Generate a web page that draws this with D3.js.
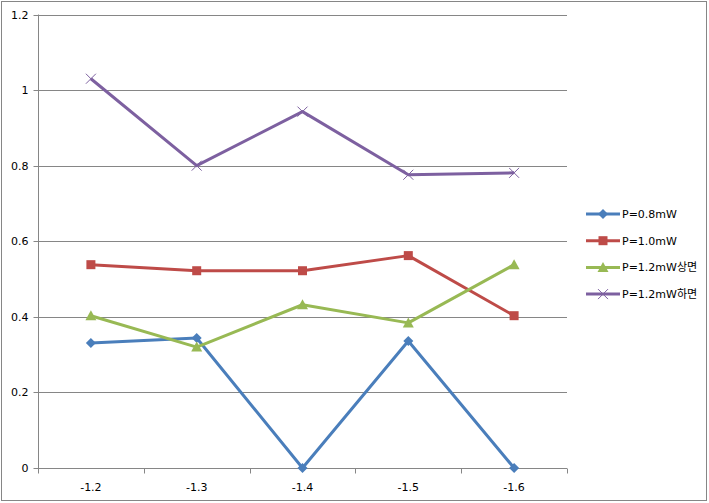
<!DOCTYPE html>
<html><head><meta charset="utf-8">
<script src="https://cdn.jsdelivr.net/npm/d3@7"></script>
<style>body{margin:0;background:#fff;} svg{display:block;} text{font-family:"DejaVu Sans","Noto Sans CJK KR",sans-serif;font-size:11px;fill:#000;}</style>
</head><body><svg id="c" width="709" height="503"></svg>
<script>
const categories = ["-1.2","-1.3","-1.4","-1.5","-1.6"];
const p08 = [0.331,0.344,0,0.336,0];
const p10 = [0.538,0.522,0.522,0.562,0.403];
const p12top = [0.403,0.320,0.432,0.384,0.538];
const p12bottom = [1.03,0.80,0.943,0.776,0.781];
const yTicks = [0,0.2,0.4,0.6,0.8,1,1.2];
const seriesNames = ["P=0.8mW","P=1.0mW","P=1.2mW상면","P=1.2mW하면"];
const seriesColors = ["#4A7EBB","#BE4B48","#98B954","#7D60A0"];
const seriesMarkers = ["diamond","square","triangle","x"];
const seriesData = [p08,p10,p12top,p12bottom];

(function(){
const svg = d3.select("#c");
svg.append("rect").attr("x",1.5).attr("y",1.5).attr("width",705).attr("height",499)
  .attr("fill","#fff").attr("stroke","#868686").attr("stroke-width",1);

const pL=38, pR=567, pT=14.5, pB=468;
const x = d3.scaleBand().domain(categories).range([pL,pR]);
const y = d3.scaleLinear().domain([0,1.2]).range([pB,pT]);

// gridlines
svg.append("g").selectAll("line").data(yTicks).join("line")
  .attr("x1",pL).attr("x2",pR)
  .attr("y1",d=>Math.round(y(d))+0.5).attr("y2",d=>Math.round(y(d))+0.5)
  .attr("stroke","#868686");

// y axis
const ya = svg.append("g").attr("transform",`translate(${pL+0.5},0)`)
  .call(d3.axisLeft(y).tickValues(yTicks).tickSize(5).tickPadding(5).tickFormat(d=>d));
ya.select(".domain").attr("stroke","#868686").attr("d",`M0,${pT}V${pB}`);
ya.selectAll(".tick line").attr("stroke","#868686");
ya.selectAll(".tick").attr("transform",d=>`translate(0,${Math.round(y(d))+0.5})`);
ya.selectAll("text").style("font-size","11px").style("font-family","DejaVu Sans");

// x axis
const xa = svg.append("g").attr("transform",`translate(0,${pB+0.5})`);
xa.append("line").attr("x1",pL).attr("x2",pR).attr("stroke","#868686");
const bounds = categories.map(c=>x(c)).concat([pR]);
xa.selectAll("line.tk").data(bounds).join("line").attr("class","tk")
  .attr("x1",d=>Math.round(d)+0.5).attr("x2",d=>Math.round(d)+0.5).attr("y1",0).attr("y2",5).attr("stroke","#868686");
xa.selectAll("text").data(categories).join("text")
  .attr("x",d=>x(d)+x.bandwidth()/2).attr("y",22).attr("text-anchor","middle").text(d=>d);

const cx = c=>x(c)+x.bandwidth()/2;
function marker(g,type,color,px,py){
  if(type==="diamond"){
    g.append("path").attr("d",`M${px},${py-5}L${px+5},${py}L${px},${py+5}L${px-5},${py}Z`).attr("fill",color);
  } else if(type==="square"){
    g.append("rect").attr("x",px-4.5).attr("y",py-4.5).attr("width",9).attr("height",9).attr("fill",color);
  } else if(type==="triangle"){
    g.append("path").attr("d",`M${px},${py-5.5}L${px+5.5},${py+4.5}L${px-5.5},${py+4.5}Z`).attr("fill",color);
  } else {
    g.append("path").attr("d",`M${px-5},${py-5}L${px+5},${py+5}M${px+5},${py-5}L${px-5},${py+5}`).attr("stroke",color).attr("stroke-width",1).attr("fill","none");
  }
}
const line = d3.line().x((d,i)=>cx(categories[i])).y(d=>y(d));
seriesData.forEach((data,k)=>{
  const g = svg.append("g");
  g.append("path").attr("d",line(data)).attr("fill","none").attr("stroke",seriesColors[k]).attr("stroke-width",3).attr("stroke-linejoin","round");
  data.forEach((v,i)=>marker(g,seriesMarkers[k],seriesColors[k],cx(categories[i]),y(v)));
});

// legend
const lg = svg.append("g");
seriesNames.forEach((n,k)=>{
  const ly = 214 + k*26.7;
  lg.append("line").attr("x1",586).attr("x2",620).attr("y1",ly).attr("y2",ly).attr("stroke",seriesColors[k]).attr("stroke-width",3);
  marker(lg,seriesMarkers[k],seriesColors[k],603,ly);
  lg.append("text").attr("x",622).attr("y",ly+4).text(n);
});
})();
</script></body></html>
